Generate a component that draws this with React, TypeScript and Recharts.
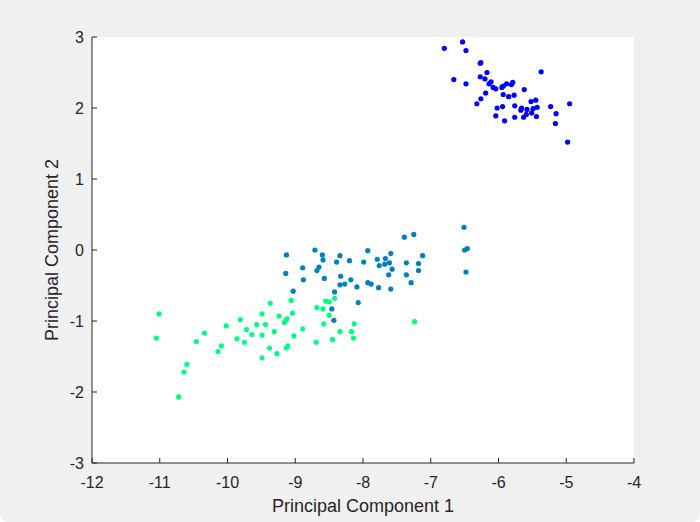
import React from "react";
import { ScatterChart, Scatter, XAxis, YAxis, CartesianGrid, Label } from "recharts";

// PCA scores per group
const groupA: [number, number][] = [
  [-6.80, 2.84], [-6.53, 2.93], [-6.48, 2.81], [-6.27, 2.63], [-6.26, 2.64], [-6.17, 2.50],
  [-6.66, 2.40], [-6.48, 2.34], [-6.27, 2.44], [-6.20, 2.41], [-6.11, 2.37], [-6.14, 2.34],
  [-6.08, 2.29], [-6.04, 2.27], [-5.95, 2.29], [-5.93, 2.31], [-5.88, 2.34], [-5.81, 2.33],
  [-5.79, 2.36], [-5.62, 2.26], [-5.37, 2.51], [-6.19, 2.21], [-6.26, 2.13], [-6.32, 2.06],
  [-5.93, 2.19], [-5.85, 2.16], [-5.77, 2.18], [-6.02, 2.00], [-5.94, 2.02], [-6.04, 1.89],
  [-5.91, 1.82], [-5.76, 2.03], [-5.66, 2.00], [-5.67, 1.97], [-5.58, 1.98], [-5.52, 2.09],
  [-5.45, 2.11], [-5.49, 1.99], [-5.43, 2.01], [-5.51, 1.93], [-5.59, 1.91], [-5.63, 1.87],
  [-5.76, 1.87], [-5.44, 1.88], [-5.23, 2.02], [-5.15, 1.92], [-5.16, 1.78], [-4.95, 2.06],
  [-4.98, 1.52],
];

const groupB: [number, number][] = [
  [-9.13, -0.07], [-9.14, -0.33], [-8.71, 0.00], [-8.60, -0.07], [-8.59, -0.14], [-8.89, -0.25],
  [-8.88, -0.42], [-8.65, -0.24], [-8.68, -0.29], [-8.34, -0.08], [-8.39, -0.17], [-8.20, -0.15],
  [-8.57, -0.40], [-8.33, -0.37], [-8.34, -0.49], [-8.27, -0.48], [-8.18, -0.42], [-9.03, -0.58],
  [-8.42, -0.59], [-8.09, -0.52], [-8.07, -0.74], [-8.46, -0.83], [-8.43, -0.99], [-7.93, -0.01],
  [-7.99, -0.17], [-7.79, -0.13], [-7.76, -0.22], [-7.67, -0.12], [-7.68, -0.20], [-7.59, -0.05],
  [-7.61, -0.18], [-7.57, -0.27], [-7.62, -0.35], [-7.93, -0.46], [-7.88, -0.48], [-7.77, -0.53],
  [-7.59, -0.55], [-7.39, 0.18], [-7.25, 0.22], [-7.12, -0.08], [-7.36, -0.18], [-7.18, -0.19],
  [-7.18, -0.29], [-7.36, -0.35], [-7.29, -0.46], [-6.51, 0.32], [-6.50, 0.00], [-6.46, 0.02],
  [-6.48, -0.31],
];

const groupC: [number, number][] = [
  [-11.01, -0.90], [-11.05, -1.24], [-10.34, -1.17], [-10.46, -1.29], [-10.60, -1.61], [-10.64, -1.72],
  [-10.72, -2.07], [-10.02, -1.07], [-10.09, -1.35], [-10.14, -1.43], [-9.81, -0.98], [-9.72, -1.12],
  [-9.86, -1.25], [-9.75, -1.30], [-9.64, -1.19], [-9.57, -1.05], [-9.49, -0.90], [-9.37, -0.75],
  [-9.44, -1.05], [-9.49, -1.20], [-9.38, -1.38], [-9.49, -1.52], [-9.27, -1.46], [-9.31, -1.15],
  [-9.24, -0.93], [-9.06, -0.71], [-9.04, -0.89], [-9.14, -0.99], [-9.16, -1.02], [-9.12, -0.97],
  [-8.89, -1.11], [-9.02, -1.21], [-9.11, -1.35], [-9.13, -1.38], [-8.68, -0.81], [-8.59, -0.83],
  [-8.55, -0.72], [-8.50, -0.73], [-8.42, -0.68], [-8.50, -0.92], [-8.58, -1.04], [-8.69, -1.30],
  [-8.45, -1.26], [-8.34, -1.15], [-8.17, -1.15], [-8.13, -1.04], [-8.14, -1.24], [-7.24, -1.01],
];

const xTicks = [-12, -11, -10, -9, -8, -7, -6, -5, -4];
const yTicks = [-3, -2, -1, 0, 1, 2, 3];

const toPts = (arr: [number, number][]) => arr.map(([x, y]) => ({ x, y }));

const FONT = "'Liberation Sans', Arial, sans-serif";
const INK = "#262626";

const Dot = (props: any) => {
  const { cx, cy, fill } = props;
  return <circle cx={cx} cy={cy} r={2.6} fill={fill} />;
};

export default function App() {
  return (
    <div
      style={{
        position: "absolute",
        left: 0,
        top: 0,
        width: 700,
        height: 522,
        background: "#f0f0f0",
        borderRadius: "0 0 8px 8px",
        overflow: "hidden",
      }}
    >
      <ScatterChart
        width={700}
        height={522}
        margin={{ top: 37, right: 66, bottom: 0, left: 0 }}
        style={{ fontFamily: FONT }}
      >
        <CartesianGrid fill="#ffffff" horizontal={false} vertical={false} />
        <XAxis
          type="number"
          dataKey="x"
          domain={[-12, -4]}
          ticks={xTicks}
          interval={0}
          height={59}
          stroke={INK}
          tickSize={-5}
          tickMargin={19}
          tick={{ fill: INK, fontSize: 16 }}
        >
          <Label
            content={() => (
              <text x={363} y={512} textAnchor="middle" fill={INK} fontSize={18} fontFamily={FONT}>
                Principal Component 1
              </text>
            )}
          />
        </XAxis>
        <YAxis
          type="number"
          dataKey="y"
          domain={[-3, 3]}
          ticks={yTicks}
          interval={0}
          width={92}
          stroke={INK}
          tickSize={-5}
          tickMargin={13}
          tick={{ fill: INK, fontSize: 16 }}
        >
          <Label
            content={() => (
              <text
                x={58}
                y={250}
                transform="rotate(-90 58 250)"
                textAnchor="middle"
                fill={INK}
                fontSize={18}
                fontFamily={FONT}
              >
                Principal Component 2
              </text>
            )}
          />
        </YAxis>
        <Scatter data={toPts(groupA)} fill="#0000ff" shape={Dot} isAnimationActive={false} />
        <Scatter data={toPts(groupB)} fill="#0080bf" shape={Dot} isAnimationActive={false} />
        <Scatter data={toPts(groupC)} fill="#00ff80" shape={Dot} isAnimationActive={false} />
      </ScatterChart>
    </div>
  );
}
